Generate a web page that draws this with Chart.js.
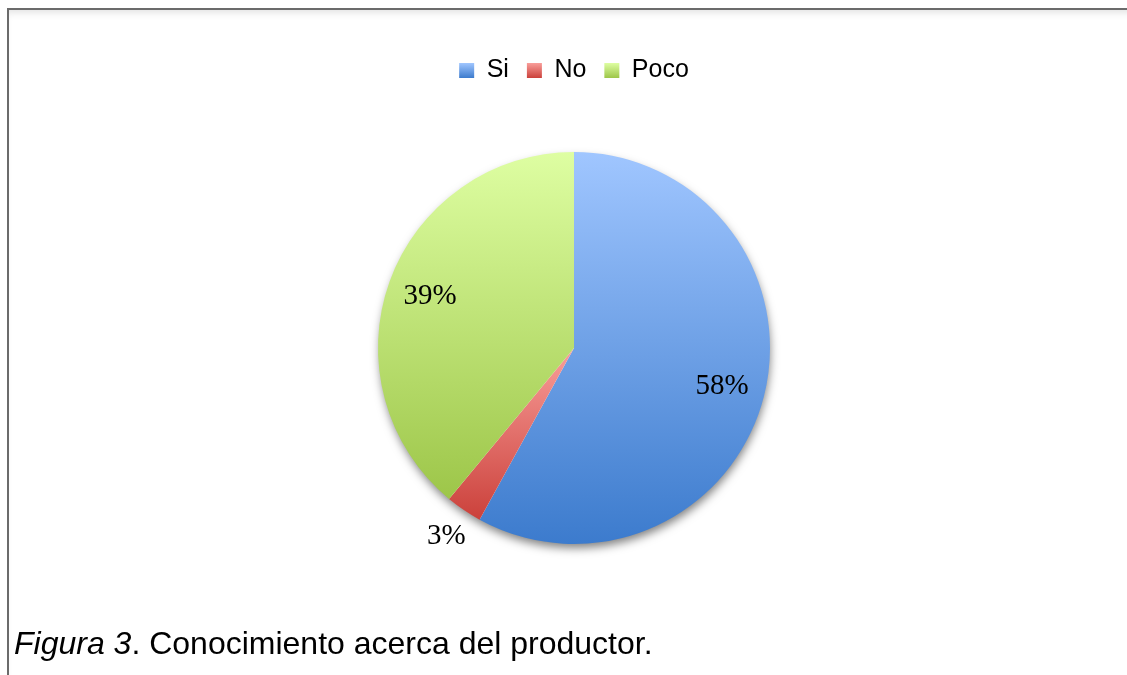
<!DOCTYPE html>
<html>
<head>
<meta charset="utf-8">
<script src="https://cdn.jsdelivr.net/npm/chart.js@4/dist/chart.umd.min.js"></script>
<style>
  html, body { margin: 0; padding: 0; background: #fff; overflow: hidden; }
  .frame {
    position: absolute; left: 7px; top: 8px; width: 1140px; height: 700px;
    border: 2px solid #6b6b6b;
    box-shadow: inset 0 7px 8px -5px rgba(0,0,0,0.13);
  }
  .chart-wrap { position: absolute; left: 0; top: 0; width: 1127px; height: 675px; }
  .caption {
    position: absolute; left: 14px; top: 627px;
    font-family: "Liberation Sans", Arial, sans-serif; font-size: 32px; line-height: 32px;
    color: #000; white-space: nowrap;
  }
</style>
</head>
<body>
<div class="frame"></div>
<div class="chart-wrap"><canvas id="pieChart"></canvas></div>
<div class="caption"><i>Figura 3</i>. Conocimiento acerca del productor.</div>
<script>
const labels = ['Si', 'No', 'Poco'];
const values = [58, 3, 39];
// top / bottom colour of each slice's vertical gradient
const lightColors = ['#a0c6ff', '#f99e9a', '#defea2'];
const darkColors = ['#3c7bcd', '#cb413b', '#9dc649'];

const LEGEND_PAD = 18;
const LEGEND_FONT = 25;
const LEGEND_BOX = 15;

// vertical extent of a pie slice, used to fit its gradient
function sliceSpan(arc) {
  const {x, y, startAngle, endAngle, outerRadius} = arc;
  let top = y, bottom = y;
  [startAngle, endAngle].forEach(a => {
    const py = y + outerRadius * Math.sin(a);
    top = Math.min(top, py);
    bottom = Math.max(bottom, py);
  });
  const twoPi = Math.PI * 2;
  const passes = a => {
    let t = a;
    while (t < startAngle) t += twoPi;
    return t <= endAngle;
  };
  if (passes(-Math.PI / 2)) top = y - outerRadius;
  if (passes(Math.PI / 2)) bottom = y + outerRadius;
  return {top, bottom};
}

function sliceFill(context) {
  const i = context.dataIndex;
  const arc = context.element;
  if (!arc || arc.outerRadius == null || !isFinite(arc.outerRadius)) return lightColors[i];
  const {top, bottom} = sliceSpan(arc);
  const g = context.chart.ctx.createLinearGradient(0, top, 0, bottom);
  g.addColorStop(0, lightColors[i]);
  g.addColorStop(1, darkColors[i]);
  return g;
}

// soft drop shadow under the whole pie
const pieShadow = {
  id: 'pieShadow',
  beforeDatasetsDraw(chart) {
    const arc = chart.getDatasetMeta(0).data[0];
    if (!arc) return;
    const ctx = chart.ctx;
    ctx.save();
    ctx.shadowColor = 'rgba(0,0,0,0.5)';
    ctx.shadowBlur = 10;
    ctx.shadowOffsetX = 1;
    ctx.shadowOffsetY = 5;
    ctx.fillStyle = '#fff';
    ctx.beginPath();
    ctx.arc(arc.x, arc.y, arc.outerRadius - 1, 0, Math.PI * 2);
    ctx.fill();
    ctx.restore();
  }
};

// percentage labels: inside big slices, outside the small one
const sliceLabels = {
  id: 'sliceLabels',
  afterDatasetsDraw(chart) {
    const ctx = chart.ctx;
    const meta = chart.getDatasetMeta(0);
    const total = values.reduce((a, b) => a + b, 0);
    ctx.save();
    ctx.font = '29px "Liberation Serif", "Times New Roman", serif';
    ctx.fillStyle = '#000';
    ctx.textAlign = 'center';
    ctx.textBaseline = 'middle';
    meta.data.forEach((arc, i) => {
      const pct = values[i] / total * 100;
      const mid = (arc.startAngle + arc.endAngle) / 2;
      const dist = pct < 5 ? arc.outerRadius * 1.16 : arc.outerRadius * 0.78;
      const x = arc.x + Math.cos(mid) * dist;
      const y = arc.y + Math.sin(mid) * dist;
      ctx.fillText(Math.round(pct) + '%', x, y);
    });
    ctx.restore();
  }
};

const chart = new Chart(document.getElementById('pieChart').getContext('2d'), {
  type: 'pie',
  data: {
    labels: labels,
    datasets: [{
      data: values,
      backgroundColor: sliceFill,
      borderWidth: 0
    }]
  },
  options: {
    responsive: true,
    maintainAspectRatio: false,
    animation: false,
    radius: 196,
    layout: { padding: { left: 21, right: 0, top: 40, bottom: 72 } },
    plugins: {
      tooltip: { enabled: false },
      legend: {
        position: 'top',
        labels: {
          boxWidth: LEGEND_BOX,
          boxHeight: LEGEND_BOX,
          padding: LEGEND_PAD,
          color: '#000',
          font: { family: '"Liberation Sans", Arial, sans-serif', size: LEGEND_FONT },
          generateLabels(ch) {
            const lg = ch.legend;
            return labels.map((text, i) => {
              let fill = lightColors[i];
              if (lg && isFinite(lg.top)) {
                const top = lg.top + LEGEND_PAD + (LEGEND_FONT - LEGEND_BOX) / 2;
                const g = ch.ctx.createLinearGradient(0, top, 0, top + LEGEND_BOX);
                g.addColorStop(0, lightColors[i]);
                g.addColorStop(1, darkColors[i]);
                fill = g;
              }
              return { text, fillStyle: fill, strokeStyle: 'rgba(0,0,0,0)', lineWidth: 0, hidden: false, index: i };
            });
          }
        }
      }
    }
  },
  plugins: [pieShadow, sliceLabels]
});
// second pass so the gradients can use the laid-out geometry
chart.update();
</script>
</body>
</html>
